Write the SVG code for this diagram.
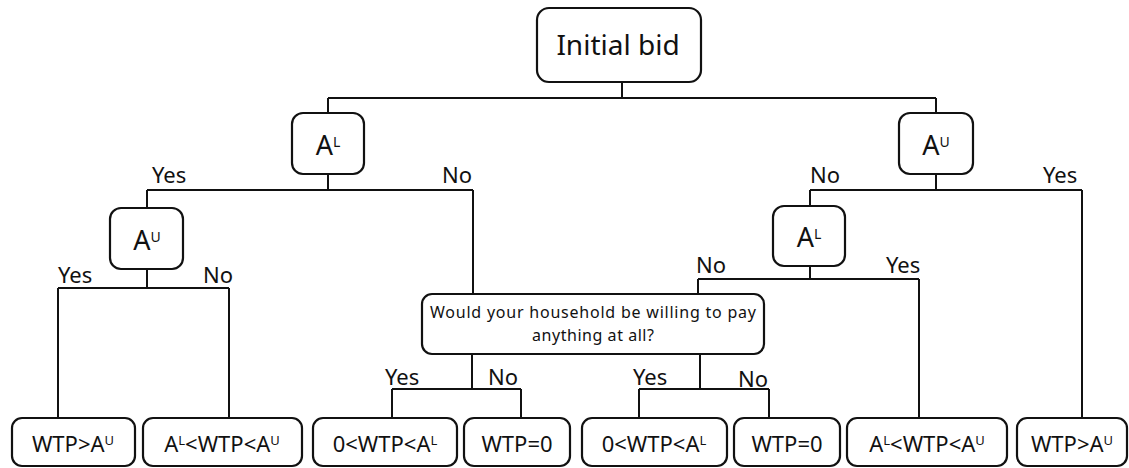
<svg xmlns="http://www.w3.org/2000/svg" width="1129" height="468" viewBox="0 0 1129 468">
<style>
.box{fill:#fff;stroke:#111;stroke-width:2.2}
.ln{fill:none;stroke:#111;stroke-width:2}
text{font-family:"Noto Sans","Open Sans","Liberation Sans",sans-serif;fill:#111}
.big{font-size:28px;text-anchor:middle}
.node{font-size:27px;text-anchor:middle}
.leaf{font-size:22px;text-anchor:middle}
.lbl{font-size:22px}
.q{font-size:16px;text-anchor:middle}
</style>
<rect width="1129" height="468" fill="#fff"/>
<g id="connectors">
<path class="ln" d="M622 82V98M328 98H936M328 98V113M936 98V113"/>
<path class="ln" d="M328 174V190M147 190H473M147 190V208M473 190V294"/>
<path class="ln" d="M147 269V288M58 288H229M58 288V418M229 288V418"/>
<path class="ln" d="M936 174V190M810 190H1082M810 190V206M1082 190V418"/>
<path class="ln" d="M810 266V279M698 279H919M698 279V294M919 279V418"/>
<path class="ln" d="M472 354V389M392 389H521M392 389V418M521 389V418"/>
<path class="ln" d="M700 354V389M639 389H769M639 389V418M769 389V418"/>
<text class="lbl" x="152" y="183">Yes</text>
<text class="lbl" x="442" y="183">No</text>
<text class="lbl" x="58" y="283">Yes</text>
<text class="lbl" x="203" y="283">No</text>
<text class="lbl" x="810" y="183">No</text>
<text class="lbl" x="1043" y="183">Yes</text>
<text class="lbl" x="696" y="273">No</text>
<text class="lbl" x="886" y="273">Yes</text>
<text class="lbl" x="385" y="385">Yes</text>
<text class="lbl" x="488" y="385">No</text>
<text class="lbl" x="633" y="385">Yes</text>
<text class="lbl" x="738" y="387">No</text>
</g>
<g id="initial-bid">
<rect class="box" x="537" y="8" width="164" height="74" rx="12"/>
<text class="big" x="618" y="55">Initial bid</text>
</g>
<g id="AL-left">
<rect class="box" x="292" y="113" width="72" height="61" rx="11"/>
<text class="node" x="328" y="155">A<tspan font-size="14" dy="-8">L</tspan></text>
</g>
<g id="AU-right">
<rect class="box" x="899" y="113" width="74" height="61" rx="11"/>
<text class="node" x="936" y="155">A<tspan font-size="14" dy="-8">U</tspan></text>
</g>
<g id="AU-left">
<rect class="box" x="110" y="208" width="73" height="61" rx="11"/>
<text class="node" x="147" y="250">A<tspan font-size="14" dy="-8">U</tspan></text>
</g>
<g id="AL-right">
<rect class="box" x="773" y="206" width="72" height="60" rx="11"/>
<text class="node" x="809" y="247">A<tspan font-size="14" dy="-8">L</tspan></text>
</g>
<g id="question">
<rect class="box" x="422" y="294" width="342" height="60" rx="10"/>
<text class="q" x="593" y="318" textLength="326" lengthAdjust="spacing">Would your household be willing to pay</text>
<text class="q" x="593" y="341" textLength="122" lengthAdjust="spacing">anything at all?</text>
</g>
<g id="leaf1">
<rect class="box" x="12" y="418" width="123" height="48" rx="10"/>
<text class="leaf" x="73" y="452">WTP&gt;A<tspan font-size="13" dy="-7">U</tspan></text>
</g>
<g id="leaf2">
<rect class="box" x="143" y="418" width="159" height="48" rx="10"/>
<text class="leaf" x="222" y="452">A<tspan font-size="13" dy="-7">L</tspan><tspan dy="7">&lt;WTP&lt;A</tspan><tspan font-size="13" dy="-7">U</tspan></text>
</g>
<g id="leaf3">
<rect class="box" x="313" y="418" width="144" height="48" rx="10"/>
<text class="leaf" x="385" y="452">0&lt;WTP&lt;A<tspan font-size="13" dy="-7">L</tspan></text>
</g>
<g id="leaf4">
<rect class="box" x="464" y="418" width="106" height="48" rx="10"/>
<text class="leaf" x="517" y="452">WTP=0</text>
</g>
<g id="leaf5">
<rect class="box" x="582" y="418" width="145" height="48" rx="10"/>
<text class="leaf" x="654" y="452">0&lt;WTP&lt;A<tspan font-size="13" dy="-7">L</tspan></text>
</g>
<g id="leaf6">
<rect class="box" x="734" y="418" width="106" height="48" rx="10"/>
<text class="leaf" x="787" y="452">WTP=0</text>
</g>
<g id="leaf7">
<rect class="box" x="847" y="418" width="160" height="48" rx="10"/>
<text class="leaf" x="927" y="452">A<tspan font-size="13" dy="-7">L</tspan><tspan dy="7">&lt;WTP&lt;A</tspan><tspan font-size="13" dy="-7">U</tspan></text>
</g>
<g id="leaf8">
<rect class="box" x="1017" y="418" width="110" height="48" rx="10"/>
<text class="leaf" x="1072" y="452">WTP&gt;A<tspan font-size="13" dy="-7">U</tspan></text>
</g>
</svg>
